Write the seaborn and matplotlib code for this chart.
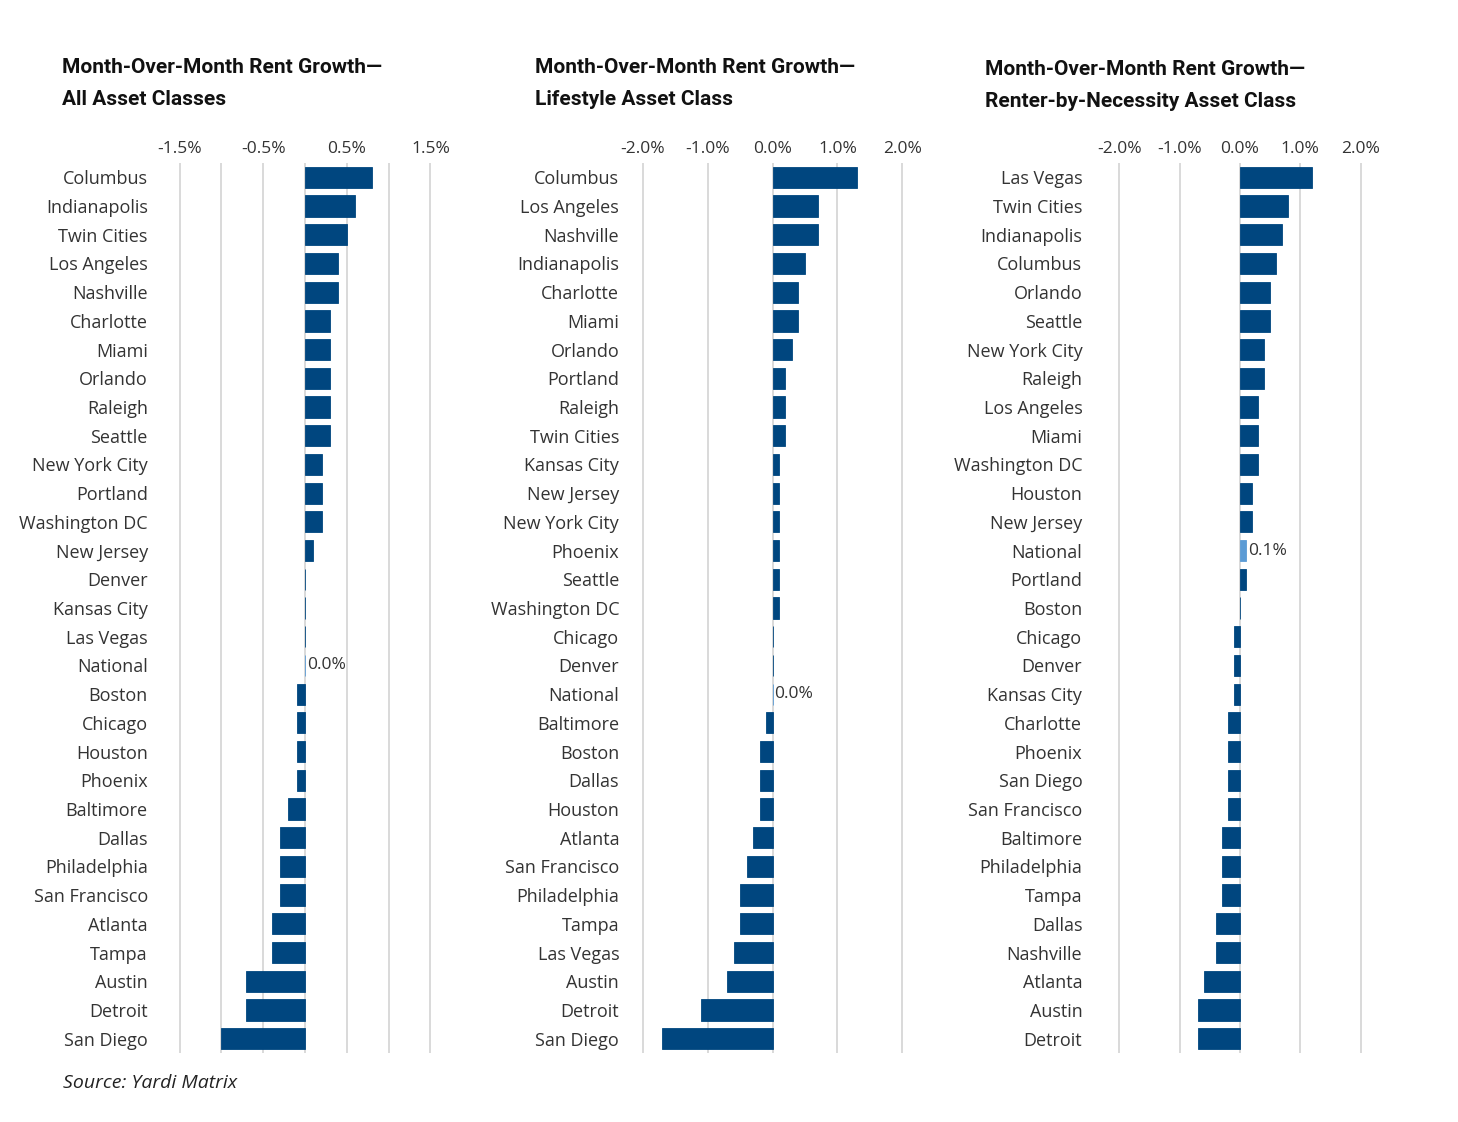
import numpy as np
import pandas as pd
import matplotlib
matplotlib.use("Agg")
import matplotlib.pyplot as plt
import seaborn as sns

sns.set_style("white")
plt.rcParams['font.family'] = ['Open Sans', 'DejaVu Sans']

# ---- data ----
all_cities = ["Columbus", "Indianapolis", "Twin Cities", "Los Angeles", "Nashville", "Charlotte",
              "Miami", "Orlando", "Raleigh", "Seattle", "New York City", "Portland",
              "Washington DC", "New Jersey", "Denver", "Kansas City", "Las Vegas", "National",
              "Boston", "Chicago", "Houston", "Phoenix", "Baltimore", "Dallas", "Philadelphia",
              "San Francisco", "Atlanta", "Tampa", "Austin", "Detroit", "San Diego"]
all_values = [0.8, 0.6, 0.5, 0.4, 0.4, 0.3, 0.3, 0.3, 0.3, 0.3, 0.2, 0.2, 0.2, 0.1,
              0.0, 0.0, 0.0, 0.0, -0.1, -0.1, -0.1, -0.1, -0.2, -0.3, -0.3, -0.3,
              -0.4, -0.4, -0.7, -0.7, -1.0]

life_cities = ["Columbus", "Los Angeles", "Nashville", "Indianapolis", "Charlotte", "Miami",
               "Orlando", "Portland", "Raleigh", "Twin Cities", "Kansas City", "New Jersey",
               "New York City", "Phoenix", "Seattle", "Washington DC", "Chicago", "Denver",
               "National", "Baltimore", "Boston", "Dallas", "Houston", "Atlanta",
               "San Francisco", "Philadelphia", "Tampa", "Las Vegas", "Austin", "Detroit",
               "San Diego"]
life_values = [1.3, 0.7, 0.7, 0.5, 0.4, 0.4, 0.3, 0.2, 0.2, 0.2, 0.1, 0.1, 0.1, 0.1, 0.1, 0.1,
               0.0, 0.0, 0.0, -0.1, -0.2, -0.2, -0.2, -0.3, -0.4, -0.5, -0.5, -0.6, -0.7,
               -1.1, -1.7]

rbn_cities = ["Las Vegas", "Twin Cities", "Indianapolis", "Columbus", "Orlando", "Seattle",
              "New York City", "Raleigh", "Los Angeles", "Miami", "Washington DC", "Houston",
              "New Jersey", "National", "Portland", "Boston", "Chicago", "Denver",
              "Kansas City", "Charlotte", "Phoenix", "San Diego", "San Francisco", "Baltimore",
              "Philadelphia", "Tampa", "Dallas", "Nashville", "Atlanta", "Austin", "Detroit"]
rbn_values = [1.2, 0.8, 0.7, 0.6, 0.5, 0.5, 0.4, 0.4, 0.3, 0.3, 0.3, 0.2, 0.2, 0.1, 0.1, 0.0,
              -0.1, -0.1, -0.1, -0.2, -0.2, -0.2, -0.2, -0.3, -0.3, -0.3, -0.4, -0.4, -0.6,
              -0.7, -0.7]

titles = ["Month-Over-Month Rent Growth\u2014\nAll Asset Classes",
          "Month-Over-Month Rent Growth\u2014\nLifestyle Asset Class",
          "Month-Over-Month Rent Growth\u2014\nRenter-by-Necessity Asset Class"]

tick_sets = [[-1.5, -0.5, 0.5, 1.5], [-2.0, -1.0, 0.0, 1.0, 2.0], [-2.0, -1.0, 0.0, 1.0, 2.0]]
grid_sets = [[-1.5, -1.0, -0.5, 0.0, 0.5, 1.0, 1.5], [-2.0, -1.0, 0.0, 1.0, 2.0],
             [-2.0, -1.0, 0.0, 1.0, 2.0]]

NAVY = "#00467F"
LIGHT = "#5B9BD5"

fig = plt.figure(figsize=(14.58, 11.22), dpi=100)
W, H = 1458, 1122
ax_px = [(179, 431, 1.5), (642, 903, 2.0), (1119, 1361, 2.0)]
top_px, bot_px = 163, 1053
title_px = [(62, 58), (535, 58), (985, 60)]
ypads = [21, 15, 25]

datasets = [(all_cities, all_values), (life_cities, life_values), (rbn_cities, rbn_values)]

for i, ((cities, vals), (l, r, lim), title) in enumerate(zip(datasets, ax_px, titles)):
    pad = 0.02 * lim
    ax = fig.add_axes([(l - 2) / W, 1 - bot_px / H, (r - l + 4) / W, (bot_px - top_px) / H])
    df = pd.DataFrame({"city": cities, "value": vals,
                       "kind": ["National" if c == "National" else "Metro" for c in cities]})
    sns.barplot(data=df, x="value", y="city", hue="kind", orient="h", ax=ax,
                palette={"Metro": NAVY, "National": LIGHT}, dodge=False, width=0.74,
                saturation=1, edgecolor=None, linewidth=0, legend=False, zorder=3)
    # thin marks for zero-valued bars
    for p in ax.patches:
        p.set_edgecolor(p.get_facecolor())
        p.set_linewidth(0.6)
    ax.set_xlim(-lim - pad, lim + pad)
    ax.set_ylim(len(cities) - 0.5, -0.5)
    ax.set_xticks(tick_sets[i])
    ax.set_xticklabels([f"{t:.1f}%" for t in tick_sets[i]])
    ax.set_xticks(grid_sets[i], minor=True)
    ax.xaxis.tick_top()
    ax.tick_params(axis="x", which="both", length=0, pad=4, labelsize=12.5, labelcolor="#333333")
    ax.tick_params(axis="y", length=0, pad=ypads[i], labelsize=13, labelcolor="#333333")
    ax.grid(False)
    for g in grid_sets[i]:
        ax.axvline(g, color="#d9d9d9", lw=1.4, zorder=1)
    ax.set_xlabel("")
    ax.set_ylabel("")
    for s in ax.spines.values():
        s.set_visible(False)
    # label for national
    ni = cities.index("National")
    nv = vals[ni]
    ax.text(max(nv, 0) + 0.015 * lim, ni, f"{nv:.1f}%", va="center", ha="left",
            fontsize=12.5, color="#333333", zorder=4)
    tx, ty = title_px[i]
    fig.text(tx / W, 1 - ty / H, title, ha="left", va="top", fontsize=15,
             fontweight="bold", linespacing=1.85,
             family=["Liberation Sans Narrow", "Roboto", "DejaVu Sans"], color="#111111")

fig.text(63 / W, 1 - 1083 / H, "Source: Yardi Matrix", ha="left", va="center",
         fontsize=14, style="italic", color="#222222")

fig.savefig("out.png", dpi=100)
